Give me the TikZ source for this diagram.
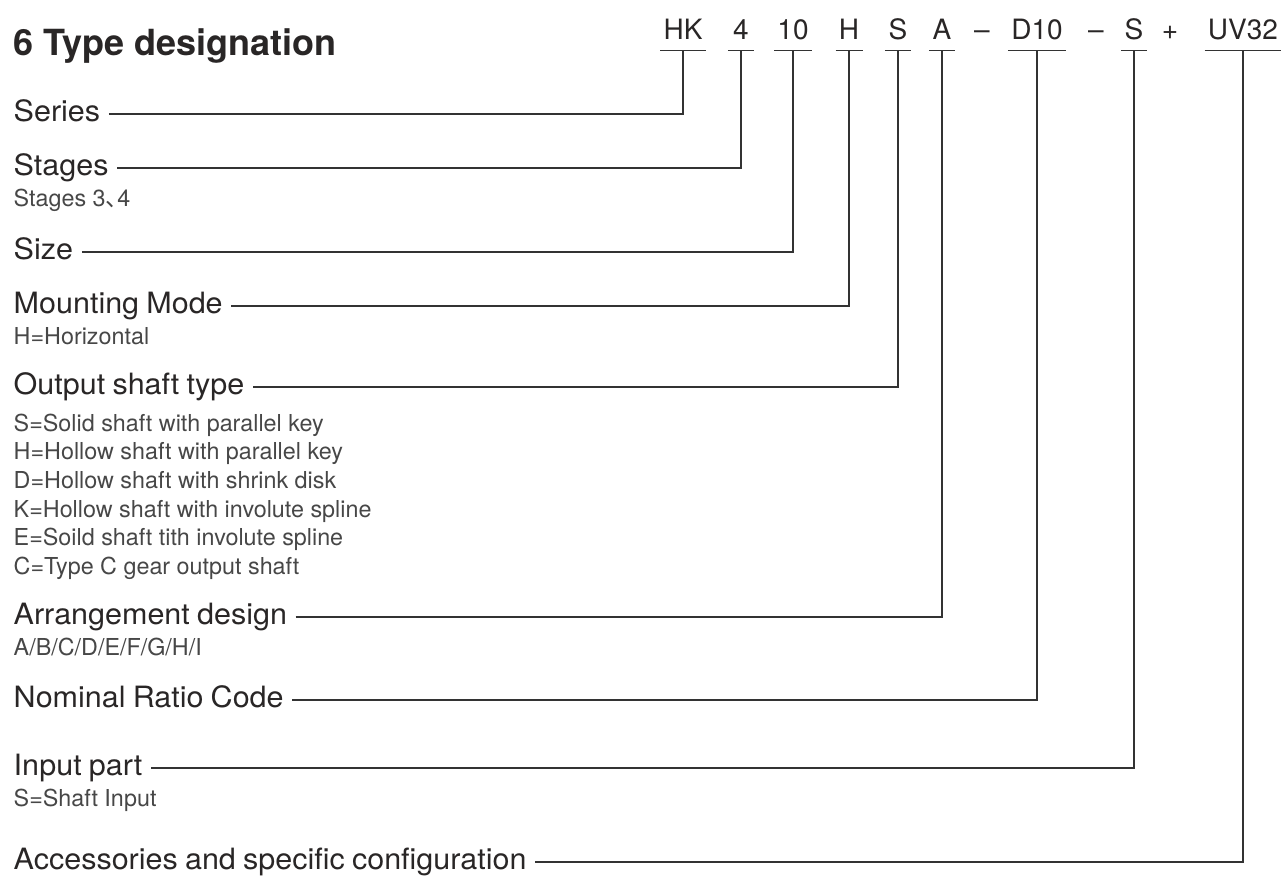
\documentclass[tikz,border=0pt]{standalone}
\usepackage{fontspec}
\setmainfont{TeX Gyre Heros}
\newfontfamily\lblfont{TeX Gyre Heros}[FakeStretch=1.04, WordSpace=0.85]
\newfontfamily\cjk{Noto Sans CJK SC}
\usetikzlibrary{positioning}
\definecolor{inkgray}{rgb}{0.16,0.15,0.15}
\definecolor{notegray}{rgb}{0.28,0.28,0.28}
\definecolor{wiregray}{rgb}{0.2,0.2,0.2}

\begin{document}
\begin{tikzpicture}[x=0.75pt, y=-0.75pt, line width=1.1pt, draw=wiregray,
  code/.style={anchor=base, font=\fontsize{21}{21}\selectfont, text=inkgray, inner xsep=2pt, inner ysep=0pt, text depth=8.25pt, minimum width=18.75pt},
  sign/.style={anchor=base, font=\fontsize{21}{21}\selectfont, text=inkgray, inner sep=0pt},
  lbl/.style={anchor=west, font=\lblfont\fontsize{22}{22}\selectfont, text=inkgray, inner sep=0pt, text height=11pt, text depth=0pt},
  note/.style={anchor=north west, align=left, font=\fontsize{17.5}{21.5}\selectfont, text=notegray, inner sep=0pt},
  wire/.style={draw=wiregray, shorten <=6pt}]
	\useasboundingbox (0,0) rectangle (1282,876);
	\node [anchor=base west, inner sep=0pt, text=inkgray, font=\bfseries\fontsize{27}{27}\selectfont] (title) at (13,55) {6 Type designation};
	% type code
	\node [code] (hk) at (683,39) {HK};
	\node [code] (stg) at (741,39) {4};
	\node [code] (sz) at (793,39) {10};
	\node [code] (mnt) at (849,39) {H};
	\node [code] (shf) at (898,39) {S};
	\node [code] (arr) at (942,39) {A};
	\node [sign] (dash1) at (982,39) {--};
	\node [code] (rat) at (1037,39) {D10};
	\node [sign] (dash2) at (1096,39) {--};
	\node [code] (inp) at (1134,39) {S};
	\node [sign] (plus) at (1170,39) {+};
	\node [code] (acc) at (1243,39) {UV32};
	\foreach \c in {hk,stg,sz,mnt,shf,arr,rat,inp,acc}
		\draw (\c.south west) -- (\c.south east);
	% labels
	\node [lbl] (series) at (13,114) {Series};
	\node [lbl] (stages) at (13,168) {Stages};
	\node [note, text height=12.5pt, below=10pt of stages.south west, anchor=north west] (stagesnote) {Stages 3{\cjk 、}\hspace{-0.5em}4};
	\node [lbl] (size) at (13,252) {Size};
	\node [lbl] (mounting) at (13,306) {Mounting Mode};
	\node [note, text height=12.5pt, below=10pt of mounting.south west, anchor=north west] (mountingnote) {H=Horizontal};
	\node [lbl] (output) at (13,387) {Output shaft type};
	\node [note, below=13.5pt of output.south west, anchor=north west] (outputnote) {S=Solid shaft with parallel key\\H=Hollow shaft with parallel key\\D=Hollow shaft with shrink disk\\K=Hollow shaft with involute spline\\E=Soild shaft tith involute spline\\C=Type C gear output shaft};
	\node [lbl] (arrange) at (13,617) {Arrangement design};
	\node [note, text height=12.5pt, below=10pt of arrange.south west, anchor=north west] (arrangenote) {A/B/C/D/E/F/G/H/I};
	\node [lbl] (ratio) at (13,700) {Nominal Ratio Code};
	\node [lbl] (input) at (13,768) {Input part};
	\node [note, text height=12.5pt, below=10pt of input.south west, anchor=north west] (inputnote) {S=Shaft Input};
	\node [lbl] (access) at (13,862) {Accessories and specific configuration};
	% leaders
	\draw [wire] (series.east) -| (hk.south);
	\draw [wire] (stages.east) -| (stg.south);
	\draw [wire] (size.east) -| (sz.south);
	\draw [wire] (mounting.east) -| (mnt.south);
	\draw [wire] (output.east) -| (shf.south);
	\draw [wire] (arrange.east) -| (arr.south);
	\draw [wire] (ratio.east) -| (rat.south);
	\draw [wire] (input.east) -| (inp.south);
	\draw [wire] (access.east) -| (acc.south);
\end{tikzpicture}
\end{document}
